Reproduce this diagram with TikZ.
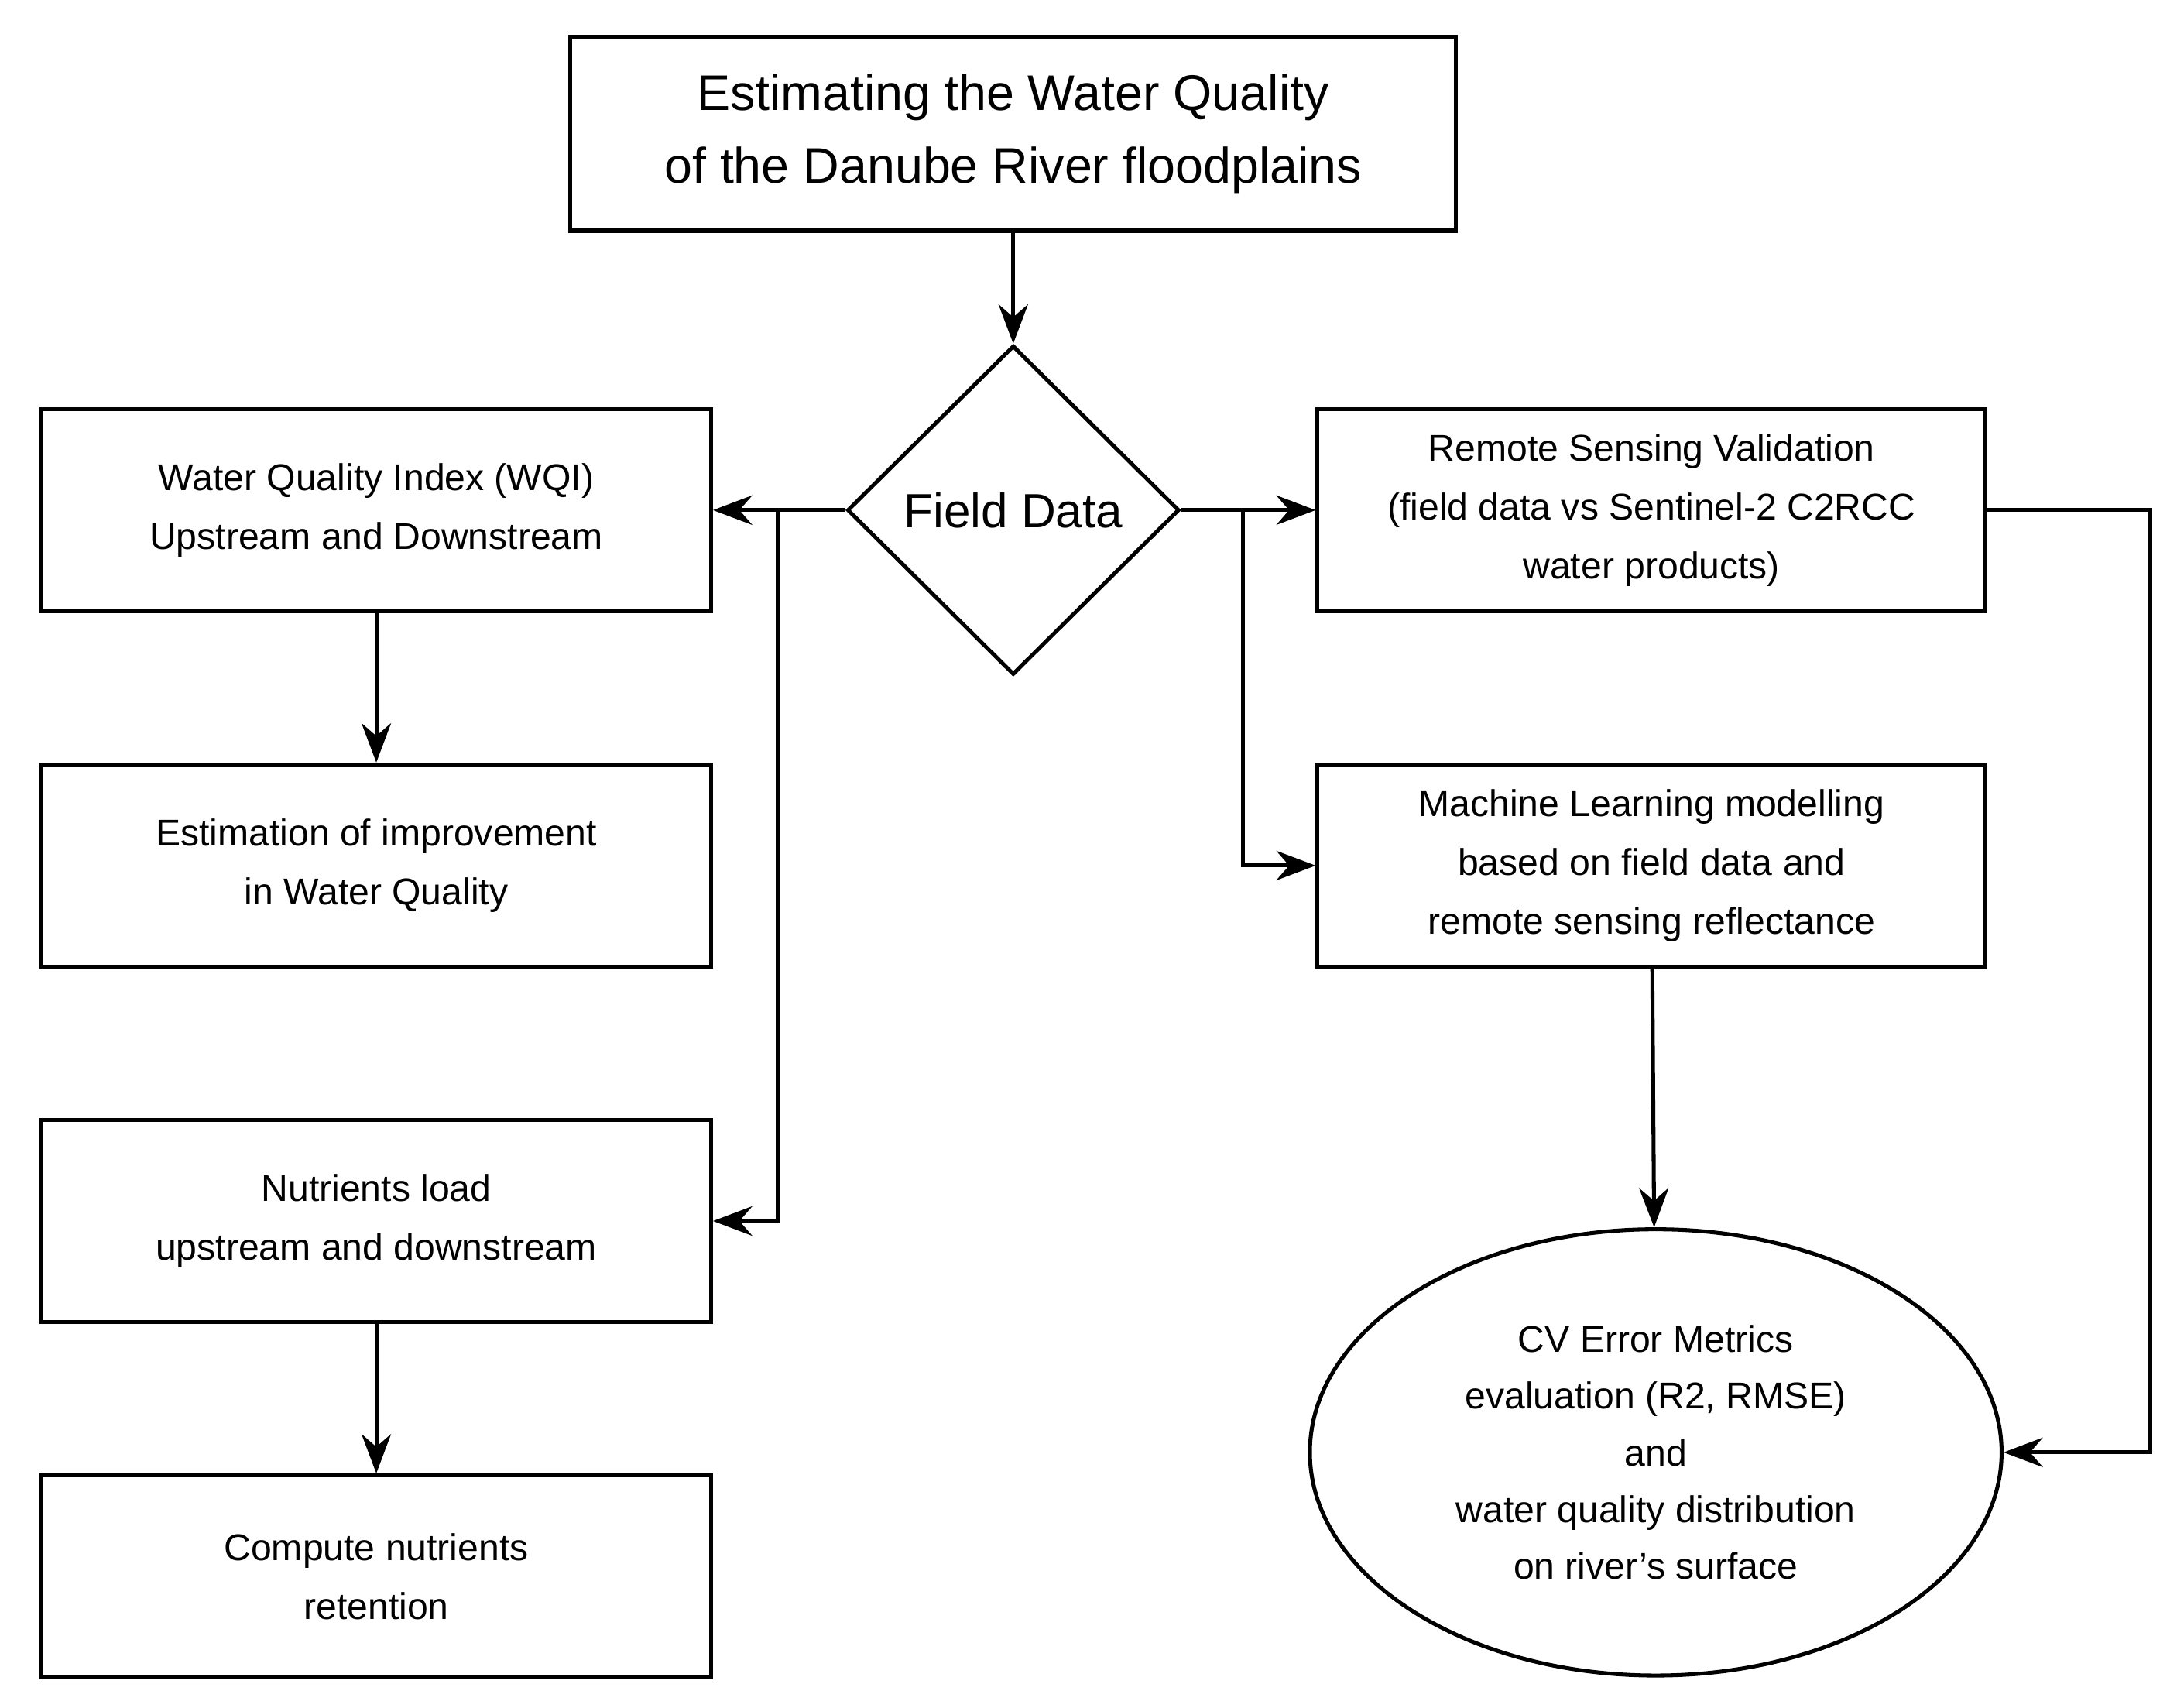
\documentclass[tikz,border=0pt]{standalone}
\usepackage{fontspec}
\setmainfont{Liberation Sans}
\usetikzlibrary{shapes.geometric, arrows.meta}
\begin{document}
\begin{tikzpicture}[x=0.01cm, y=-0.01cm,
    box/.style={draw, thick, rectangle, minimum width=4.8cm, minimum height=1.45cm,
                align=center, font=\fontsize{7.6}{12}\selectfont},
    arr/.style={thick, -{Stealth[length=8pt, width=6pt]}},
    line/.style={thick}
  ]
  \useasboundingbox (0,0) rectangle (1562,1225);
  \node (title) [draw, thick, minimum width=6.35cm, minimum height=1.39cm, align=center,
        font=\fontsize{10.2}{14.8}\selectfont] at (727,96)
        {Estimating the Water Quality\\of the Danube River floodplains};
  \node (field) [draw, thick, diamond, minimum width=2.38cm, minimum height=2.36cm,
        inner sep=0pt, font=\fontsize{9.8}{12}\selectfont] at (727,366) {Field Data};
  \node (wqi) [box] at (270,366) {Water Quality Index (WQI)\\Upstream and Downstream};
  \node (est) [box] at (270,621) {Estimation of improvement\\in Water Quality};
  \node (nut) [box] at (270,876) {Nutrients load\\upstream and downstream};
  \node (comp) [box] at (270,1131) {Compute nutrients\\retention};
  \node (rs) [box, minimum width=4.79cm] at (1185,366)
        {Remote Sensing Validation\\(field data vs Sentinel-2 C2RCC\\water products)};
  \node (ml) [box, minimum width=4.79cm] at (1185,621)
        {Machine Learning modelling\\based on field data and\\remote sensing reflectance};
  \node (cv) [draw, thick, ellipse, minimum width=4.96cm, minimum height=3.2cm,
        inner sep=0pt, align=center, font=\fontsize{7.6}{11.6}\selectfont] at (1188,1042)
        {CV Error Metrics\\evaluation (R2, RMSE)\\and\\water quality distribution\\on river's surface};
  \coordinate (bl) at (558,366);
  \coordinate (br) at (892,366);
  \coordinate (rc) at (1543,366);
  \draw [arr] (title) -- (field);
  \draw [arr] (field.west) -- (wqi.east);
  \draw [arr] (bl) |- (nut.east);
  \draw [arr] (field.east) -- (rs.west);
  \draw [arr] (br) |- (ml.west);
  \draw [arr] (rs.east) -- (rc) |- (cv.east);
  \draw [arr] (ml) -- (cv);
  \draw [arr] (wqi) -- (est);
  \draw [arr] (nut) -- (comp);
\end{tikzpicture}
\end{document}
